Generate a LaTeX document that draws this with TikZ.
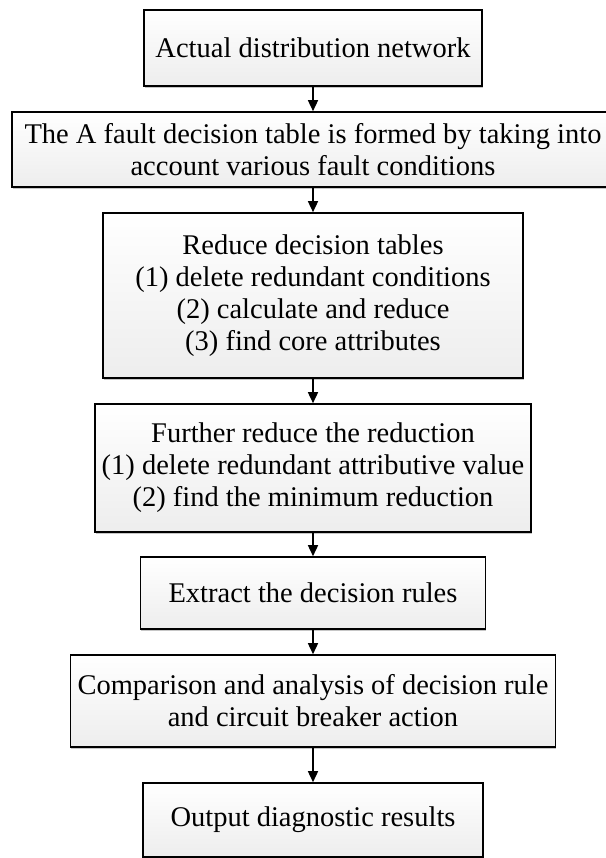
\documentclass[tikz,border=0pt]{standalone}
\usepackage{fontspec}
\setmainfont{Liberation Serif}
\usetikzlibrary{arrows.meta,positioning,shadows}

\begin{document}
\begin{tikzpicture}[
  x=1pt, y=-1pt,
  >={Triangle[length=11pt,width=10pt]},
  box/.style={draw=black, line width=1.6pt, top color=white, bottom color=gray!14,
    drop shadow={shadow xshift=0.8pt, shadow yshift=-1.6pt, opacity=0.45, fill=gray},
    align=center, inner sep=0pt, font=\fontsize{28.5}{32}\selectfont},
  arr/.style={->, line width=1.5pt},
]
\useasboundingbox (0,0) rectangle (605,858);

% Flow boxes
\node[box, minimum width=338pt, minimum height=76pt] (net) at (313,48) {Actual distribution network};
\node[box, minimum width=602pt, minimum height=75pt] (table) at (313,149.5)
  {The A fault decision table is formed by taking into\\account various fault conditions};
\node[box, minimum width=420pt, minimum height=165pt] (reduce) at (313,295.5)
  {Reduce decision tables\\(1) delete redundant conditions\\(2) calculate and reduce\\(3) find core attributes};
\node[box, minimum width=436pt, minimum height=128pt] (further) at (313,468)
  {Further reduce the reduction\\(1) delete redundant attributive value\\(2) find the minimum reduction};
\node[box, minimum width=345pt, minimum height=72pt] (rules) at (313,593) {Extract the decision rules};
\node[box, minimum width=485pt, minimum height=92pt] (compare) at (313,701)
  {Comparison and analysis of decision rule\\and circuit breaker action};
\node[box, minimum width=340pt, minimum height=74pt] (output) at (313,820) {Output diagnostic results};

% Arrows
\foreach \a/\b in {net/table, table/reduce, reduce/further, further/rules, rules/compare, compare/output} {
  \draw[arr] (\a) -- (\b);
}
\end{tikzpicture}
\end{document}
